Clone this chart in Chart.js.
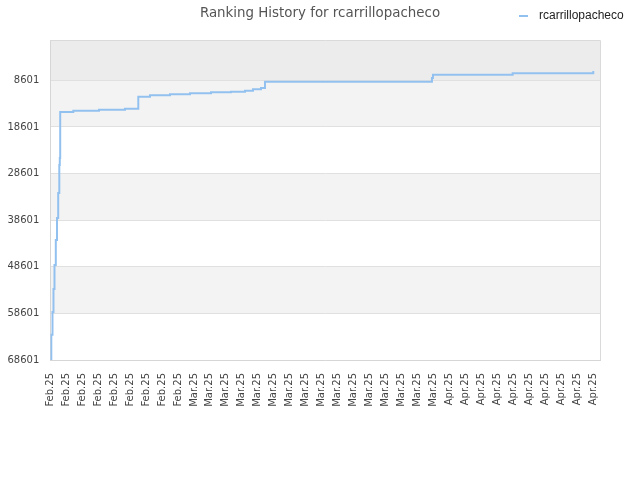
<!DOCTYPE html>
<html><head><meta charset="utf-8">
<script src="https://cdn.jsdelivr.net/npm/chart.js@4"></script>
<style>html,body{margin:0;padding:0;background:#fff}</style>
</head><body>
<canvas id="c" width="640" height="480"></canvas>
<script>
const tickLabels = [
  'Feb.25','Feb.25','Feb.25','Feb.25','Feb.25','Feb.25','Feb.25','Feb.25','Feb.25',
  'Mar.25','Mar.25','Mar.25','Mar.25','Mar.25','Mar.25','Mar.25','Mar.25',
  'Mar.25','Mar.25','Mar.25','Mar.25','Mar.25','Mar.25','Mar.25','Mar.25',
  'Apr.25','Apr.25','Apr.25','Apr.25','Apr.25','Apr.25','Apr.25','Apr.25','Apr.25','Apr.25'
];
const yTicks = [8601, 18601, 28601, 38601, 48601, 58601, 68601];
const seriesName = 'rcarrillopacheco';
// position along the label axis (label index units) and rank at that moment
const timeIdx = [0.03, 0.063, 0.138, 0.20, 0.263, 0.345, 0.42, 0.495, 0.564, 0.595, 0.62,
  1.441, 3.051, 4.68, 5.513, 6.246, 7.499, 8.752, 10.067, 11.32, 12.197, 12.698, 13.2,
  13.45, 23.913, 23.976, 28.969, 34.02];
const ranks = [68550, 63200, 58300, 53350, 48200, 42850, 38130, 32770, 26760, 25260, 15400,
  15120, 14900, 14690, 12120, 11820, 11600, 11390, 11175, 11045, 10830, 10530, 10250,
  8900, 8100, 7400, 7100, 6600];

const lineColor = '#92c1f0';

const bandsPlugin = {
  id: 'bands',
  beforeDraw(chart) {
    const {ctx, chartArea: a, scales: {y}} = chart;
    ctx.save();
    ctx.fillStyle = '#ffffff';
    ctx.fillRect(0, 0, chart.width, chart.height);
    const edges = [y.min, ...yTicks];
    for (let i = 0; i < edges.length - 1; i++) {
      const p1 = y.getPixelForValue(edges[i]);
      const p2 = y.getPixelForValue(edges[i + 1]);
      ctx.fillStyle = i === 0 ? '#ececec' : (i % 2 === 1 ? '#f3f3f3' : '#ffffff');
      ctx.fillRect(a.left, p1, a.right - a.left, p2 - p1);
    }
    ctx.restore();
  },
  beforeDatasetsDraw(chart) {
    const {ctx, chartArea: a} = chart;
    ctx.save();
    ctx.strokeStyle = '#dadada';
    ctx.lineWidth = 1;
    ctx.beginPath();
    ctx.moveTo(a.left, Math.round(a.top) + 0.5);
    ctx.lineTo(Math.round(a.right) + 0.5, Math.round(a.top) + 0.5);
    ctx.lineTo(Math.round(a.right) + 0.5, a.bottom);
    ctx.stroke();
    ctx.restore();
  },
  afterDraw(chart) {
    const ctx = chart.ctx;
    const ds = chart.data.datasets[0];
    ctx.save();
    ctx.strokeStyle = ds.borderColor;
    ctx.lineWidth = 2;
    ctx.beginPath();
    ctx.moveTo(519, 16);
    ctx.lineTo(528, 16);
    ctx.stroke();
    ctx.fillStyle = '#222';
    ctx.font = '12px "Liberation Sans", Arial, sans-serif';
    ctx.textBaseline = 'middle';
    ctx.textAlign = 'left';
    ctx.fillText(ds.label, 539, 16);
    ctx.restore();
  }
};

new Chart(document.getElementById('c'), {
  type: 'line',
  data: {
    datasets: [{
      label: seriesName,
      data: timeIdx.map((t, i) => ({x: t, y: ranks[i]})),
      borderColor: lineColor,
      backgroundColor: lineColor,
      borderWidth: 2,
      pointRadius: 0,
      stepped: true,
      fill: false
    }]
  },
  options: {
    responsive: false,
    animation: false,
    devicePixelRatio: 1,
    layout: {padding: 0},
    plugins: {
      legend: {display: false},
      tooltip: {enabled: false},
      title: {
        display: true,
        text: 'Ranking History for ' + seriesName,
        color: '#555',
        font: {family: 'DejaVu Sans', size: 13.4, weight: 'normal'},
        padding: {top: 5, bottom: 19.2}
      }
    },
    scales: {
      x: {
        type: 'linear',
        min: 0,
        max: 34.46,
        afterBuildTicks(scale) {
          scale.ticks = tickLabels.map((_, i) => ({value: i}));
        },
        afterFit(scale) { scale.height = 120; },
        grid: {display: false, drawTicks: false},
        border: {display: true, color: '#d6d6d6'},
        ticks: {
          autoSkip: false,
          minRotation: 90,
          maxRotation: 90,
          padding: 13,
          color: '#444',
          font: {family: 'DejaVu Sans', size: 10},
          callback: (v) => tickLabels[v]
        }
      },
      y: {
        type: 'linear',
        reverse: true,
        min: 1,
        max: 68601,
        afterBuildTicks(scale) {
          scale.ticks = yTicks.map(v => ({value: v}));
        },
        afterFit(scale) { scale.width = 50.3; },
        grid: {color: '#e0e0e0', drawTicks: false},
        border: {display: true, color: '#d6d6d6'},
        ticks: {
          padding: 11,
          color: '#444',
          font: {family: 'DejaVu Sans', size: 10},
          callback: (v) => String(v)
        }
      },
      yRightSpace: {
        type: 'linear',
        position: 'right',
        display: true,
        min: 0,
        max: 1,
        afterFit(scale) { scale.width = 39.7; },
        grid: {display: false, drawTicks: false},
        border: {display: false},
        ticks: {display: false}
      }
    }
  },
  plugins: [bandsPlugin]
});
</script>
</body></html>
